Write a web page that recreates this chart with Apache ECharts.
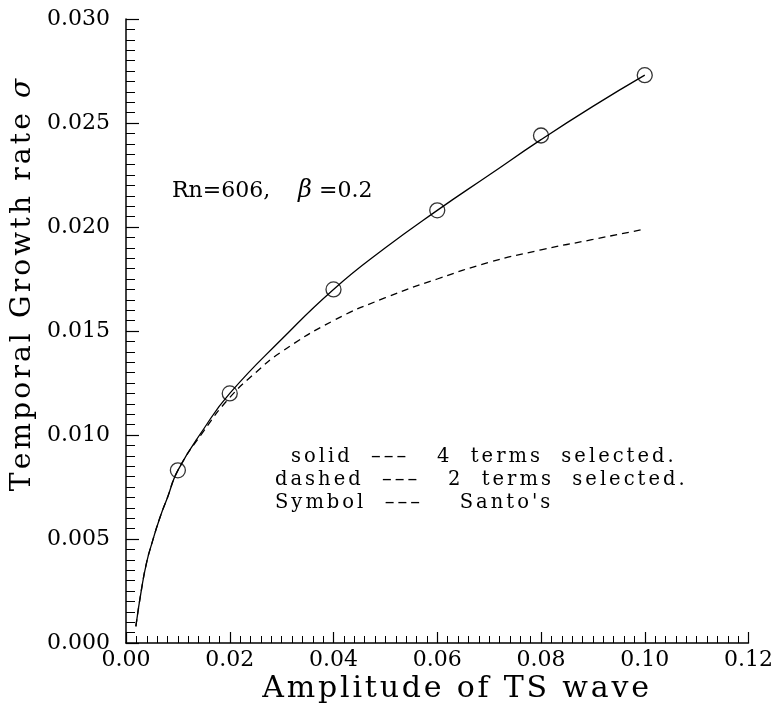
<!DOCTYPE html>
<html>
<head>
<meta charset="utf-8">
<script src="https://cdn.jsdelivr.net/npm/echarts@6/dist/echarts.min.js"></script>
<style>
  html, body { margin: 0; padding: 0; background: #fff; }
  #chart { width: 776px; height: 704px; }
</style>
</head>
<body>
<div id="chart"></div>
<script>
// Solid curve: growth rate with 4 terms selected
const solidX = [0.0019, 0.003, 0.004, 0.005, 0.0065, 0.008, 0.01, 0.015, 0.02, 0.03, 0.04, 0.05, 0.06, 0.07, 0.08, 0.09, 0.10];
const solidY = [0.0008, 0.0026, 0.0039, 0.0048, 0.0060, 0.0070, 0.0083, 0.0103, 0.0120, 0.0146, 0.0170, 0.0190, 0.0208, 0.0225, 0.0242, 0.0258, 0.0273];

// Dashed curve: growth rate with 2 terms selected
const dashX = [0.0019, 0.003, 0.004, 0.005, 0.0065, 0.008, 0.01, 0.015, 0.02, 0.025, 0.03, 0.04, 0.05, 0.06, 0.07, 0.08, 0.09, 0.10];
const dashY = [0.0008, 0.0026, 0.0039, 0.0048, 0.0060, 0.0070, 0.0083, 0.0102, 0.0118, 0.0130, 0.0140, 0.0155, 0.0166, 0.0175, 0.0183, 0.0189, 0.0194, 0.0199];

// Santo's reference values (circle symbols)
const santoX = [0.01, 0.02, 0.04, 0.06, 0.08, 0.10];
const santoY = [0.0083, 0.0120, 0.0170, 0.0208, 0.0244, 0.0273];

// Axis ranges and tick steps
const xRange = [0, 0.12], xStep = 0.02;
const yRange = [0, 0.03], yStep = 0.005;

// Texts
const xTitle = 'Amplitude of TS wave';
const yTitle = 'Temporal Growth rate ';
const yTitleSymbol = 'σ';
const noteText = ['Rn=606,    ', 'β', ' =0.2'];
const keyLines = [
  'solid  –––   4  terms  selected.',
  'dashed  –––   2  terms  selected.',
  'Symbol  –––    Santo\'s'
];

const FONT = 'DejaVu Serif';

// Wrap each character in its own rich token so the text can be tracked out
function tracked(str, key) {
  return str.split('').map(function (c) { return '{' + key + '|' + c + '}'; }).join('');
}
function zip(xs, ys) { return xs.map(function (x, i) { return [x, ys[i]]; }); }

const chart = echarts.init(document.getElementById('chart'), null, { renderer: 'canvas' });

const axisCommon = {
  type: 'value',
  axisLine: { show: true, onZero: false, lineStyle: { color: '#000', width: 1.5 } },
  splitLine: { show: false },
  axisLabel: { color: '#000', fontFamily: FONT, fontSize: 22 }
};

function keyText(str, x, y) {
  return {
    type: 'text',
    x: x, y: y,
    style: {
      text: tracked(str, 'k'),
      align: 'left', verticalAlign: 'middle',
      textAlign: 'left', textVerticalAlign: 'middle',
      fill: '#000', fontFamily: FONT, fontSize: 19.5,
      rich: { k: { fontFamily: FONT, fontSize: 19.5, fill: '#000', padding: [0, 3, 0, 0] } }
    }
  };
}

chart.setOption({
  animation: false,
  backgroundColor: '#fff',
  grid: { left: 126, right: 23, top: 19, bottom: 61, containLabel: false },
  xAxis: Object.assign({}, axisCommon, {
    min: xRange[0], max: xRange[1], interval: xStep,
    axisTick: { show: true, inside: true, length: 11, lineStyle: { color: '#000', width: 1.2 } },
    minorTick: { show: true, splitNumber: 10, length: 7, lineStyle: { color: '#000', width: 1 } },
    axisLabel: Object.assign({}, axisCommon.axisLabel, {
      margin: 6,
      formatter: function (v) { return v.toFixed(2); }
    })
  }),
  yAxis: Object.assign({}, axisCommon, {
    min: yRange[0], max: yRange[1], interval: yStep,
    axisTick: { show: true, inside: true, length: 13, lineStyle: { color: '#000', width: 1.2 } },
    minorTick: { show: true, splitNumber: 10, length: 9, lineStyle: { color: '#000', width: 1 } },
    axisLabel: Object.assign({}, axisCommon.axisLabel, {
      margin: 16,
      formatter: function (v) { return v.toFixed(3); }
    })
  }),
  series: [
    {
      name: '4 terms',
      type: 'line',
      data: zip(solidX, solidY),
      showSymbol: false,
      smooth: 0.5,
      lineStyle: { color: '#000', width: 1.3 }
    },
    {
      name: '2 terms',
      type: 'line',
      data: zip(dashX, dashY),
      showSymbol: false,
      smooth: 0.5,
      lineStyle: { color: '#000', width: 1.3, type: [7, 5] }
    },
    {
      name: "Santo's",
      type: 'scatter',
      data: zip(santoX, santoY),
      symbol: 'circle',
      symbolSize: 15,
      itemStyle: { color: 'rgba(0,0,0,0)', borderColor: '#000', borderWidth: 1.3 },
      z: 5
    }
  ],
  graphic: [
    {
      type: 'text',
      x: 457, y: 689,
      style: {
        text: tracked(xTitle, 't'),
        align: 'center', verticalAlign: 'middle',
        textAlign: 'center', textVerticalAlign: 'middle',
        fill: '#000', fontFamily: FONT, fontSize: 30,
        rich: { t: { fontFamily: FONT, fontSize: 30, fill: '#000', padding: [0, 2.8, 0, 0] } }
      }
    },
    {
      type: 'text',
      x: 23, y: 285,
      rotation: Math.PI / 2,
      style: {
        text: tracked(yTitle, 't') + '{s|' + yTitleSymbol + '}',
        align: 'center', verticalAlign: 'middle',
        textAlign: 'center', textVerticalAlign: 'middle',
        fill: '#000', fontFamily: FONT, fontSize: 28,
        rich: {
          t: { fontFamily: FONT, fontSize: 28, fill: '#000', padding: [0, 3.2, 0, 0] },
          s: { fontFamily: FONT, fontSize: 28, fontStyle: 'italic', fill: '#000' }
        }
      }
    },
    {
      type: 'text',
      x: 172, y: 191,
      style: {
        text: noteText[0] + '{b|' + noteText[1] + '}' + noteText[2],
        align: 'left', verticalAlign: 'middle',
        textAlign: 'left', textVerticalAlign: 'middle',
        fill: '#000', fontFamily: FONT, fontSize: 22,
        rich: { b: { fontFamily: FONT, fontSize: 24, fontStyle: 'italic', fill: '#000' } }
      }
    },
    keyText(keyLines[0], 291, 457),
    keyText(keyLines[1], 275, 480),
    keyText(keyLines[2], 275, 503)
  ]
});
</script>
</body>
</html>
